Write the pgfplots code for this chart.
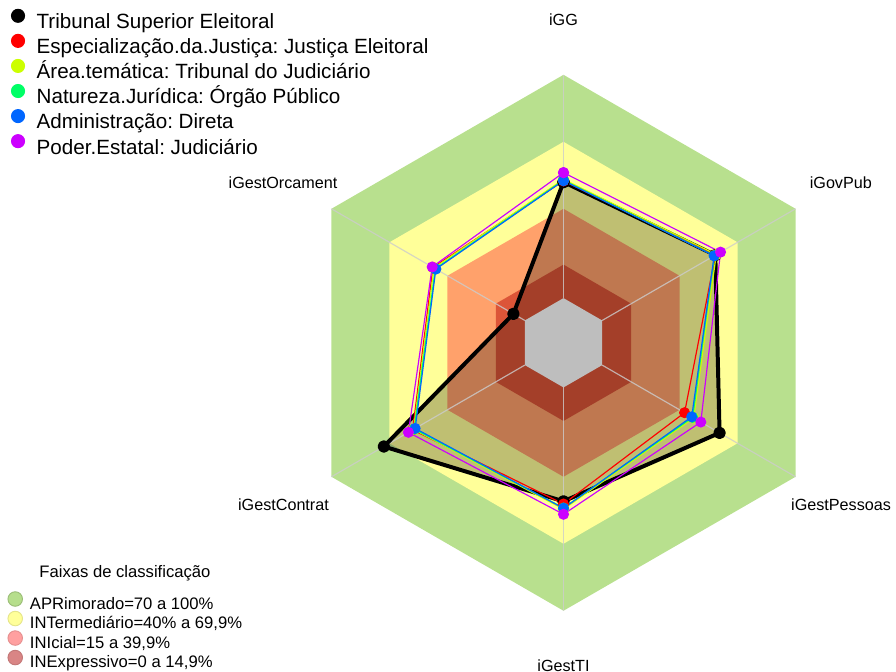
\documentclass[border=0pt]{standalone}
\usepackage{fontspec}
\setmainfont{Liberation Sans}
\usepackage{pgfplots}
\usepackage{pgfplotstable}
\pgfplotsset{compat=1.18}
\frenchspacing

\definecolor{cAP}{HTML}{B8E08E}
\definecolor{cINT}{HTML}{FFFF99}
\definecolor{cINI}{HTML}{FFA16B}
\definecolor{cINE}{HTML}{DC5538}
\definecolor{cCen}{HTML}{BEBEBE}
\definecolor{sRed}{HTML}{FF0000}
\definecolor{sYel}{HTML}{CCFF00}
\definecolor{sGrn}{HTML}{00FF66}
\definecolor{sBlu}{HTML}{0066FF}
\definecolor{sMag}{HTML}{CC00FF}
\definecolor{lAP}{HTML}{B6DE8C}
\definecolor{lINT}{HTML}{FFFF99}
\definecolor{lINI}{HTML}{FFA0A0}
\definecolor{lINE}{HTML}{D98585}

% scores (0-100); the radial axis starts at -20, so radius = value + 20
% angle: iGG 90, iGovPub 30, iGestPessoas -30, iGestTI -90, iGestContrat -150, iGestOrcament 150
\pgfplotstableread{
ang  tse   esp   area  nat   adm   pod
90   52.0  52.5  53.2  52.8  52.6  56.2
30   58.5  58.6  59.0  58.0  57.9  61.2
-30  60.7  42.6  47.3  46.8  46.3  51.0
-90  51.0  52.2  54.5  54.0  54.1  56.8
-150 72.9  58.0  57.5  57.2  56.7  60.2
150  5.9   47.5  47.0  46.3  46.0  47.9
90   52.0  52.5  53.2  52.8  52.6  56.2
}\scores

% classification bands (upper limits)
\pgfplotstableread{
ang  ap   int  ini  ine  base
90   100  70   40   15   0
30   100  70   40   15   0
-30  100  70   40   15   0
-90  100  70   40   15   0
-150 100  70   40   15   0
150  100  70   40   15   0
}\bands

\pgfplotsset{
  radar/.style={scale only axis, width=13.44cm, height=10.065cm,
    xmin=-252.35, xmax=148.9, ymin=-146.98, ymax=153.5,
    axis lines=none, clip=false},
  serie/.style={#1, line width=0.5pt, mark=*, mark size=2.1pt,
    mark options={solid, fill=#1, draw=#1}, data cs=polar},
}

\begin{document}
\begin{tikzpicture}
\begin{axis}[radar]
\addplot[fill=cAP, draw=none, data cs=polar] table[x=ang, y expr=\thisrow{ap}+20] {\bands};
\addplot[fill=cINT, draw=none, data cs=polar] table[x=ang, y expr=\thisrow{int}+20] {\bands};
\addplot[fill=cINI, draw=none, data cs=polar] table[x=ang, y expr=\thisrow{ini}+20] {\bands};
\addplot[fill=cINE, draw=none, data cs=polar] table[x=ang, y expr=\thisrow{ine}+20] {\bands};
% shaded area of the selected body
\addplot[fill=black, fill opacity=0.25, draw=none, data cs=polar] table[x=ang, y expr=\thisrow{tse}+20] {\scores};
\addplot[fill=cCen, draw=none, data cs=polar] table[x=ang, y expr=\thisrow{base}+20] {\bands};
\pgfplotsinvokeforeach{90,30,-30,-90,-150,150}{
  \addplot[draw=white!80!black, line width=0.5pt, opacity=0.8, data cs=polar] coordinates {(#1,20) (#1,120)};
}
\addplot[black, line width=1.7pt, line join=round, mark=*, mark size=1.8pt, data cs=polar]
  table[x=ang, y expr=\thisrow{tse}+20] {\scores};
\addplot[serie=sRed] table[x=ang, y expr=\thisrow{esp}+20] {\scores};
\addplot[serie=sYel] table[x=ang, y expr=\thisrow{area}+20] {\scores};
\addplot[serie=sGrn] table[x=ang, y expr=\thisrow{nat}+20] {\scores};
\addplot[serie=sBlu] table[x=ang, y expr=\thisrow{adm}+20] {\scores};
\addplot[serie=sMag] table[x=ang, y expr=\thisrow{pod}+20] {\scores};

\begin{scope}[font=\fontsize{6.9}{8}\selectfont]
\node at (axis cs:0,144.6) {iGG};
\node at (axis cs:124.2,71.6) {iGovPub};
\node at (axis cs:124.3,-72.7) {iGestPessoas};
\node at (axis cs:0,-144.4) {iGestTI};
\node at (axis cs:-125.4,-72.7) {iGestContrat};
\node at (axis cs:-125.6,71.6) {iGestOrcament};
\node[font=\fontsize{7.1}{8}\selectfont] at (axis cs:-196.4,-103.1) {Faixas de classificação};
\end{scope}
\coordinate (bl) at (rel axis cs:0,0);
\coordinate (tr) at (rel axis cs:1,1);
\end{axis}

\begin{axis}[radar,
  legend style={at={(0.0039,0.9946)}, anchor=north west, draw=none, fill=none,
    font=\fontsize{8.8}{10}\selectfont, row sep=0.2pt, column sep=4.95pt,
    nodes={inner sep=0pt, text height=7pt, text depth=2pt}},
  legend cell align=left,
  legend image code/.code={\fill[#1] (0pt,3pt) circle (2.8pt);},
]
\addlegendimage{black}\addlegendentry{Tribunal Superior Eleitoral}
\addlegendimage{sRed}\addlegendentry{Especialização.da.Justiça: Justiça Eleitoral}
\addlegendimage{sYel}\addlegendentry{Área.temática: Tribunal do Judiciário}
\addlegendimage{sGrn}\addlegendentry{Natureza.Jurídica: Órgão Público}
\addlegendimage{sBlu}\addlegendentry{Administração: Direta}
\addlegendimage{sMag}\addlegendentry{Poder.Estatal: Judiciário}
\end{axis}

\begin{axis}[radar,
  legend style={at={(0,0.1265)}, anchor=north west, draw=none, fill=none,
    font=\fontsize{7.1}{8}\selectfont, row sep=-0.92pt, column sep=3.0pt,
    nodes={inner sep=0pt, text height=5.5pt, text depth=1.6pt}},
  legend cell align=left,
  legend image code/.code={\filldraw[#1, line width=0.4pt] (0pt,2.4pt) circle (3.1pt);},
]
\addlegendimage{fill=lAP, draw=lAP!85!black}\addlegendentry{APRimorado=70 a 100\%}
\addlegendimage{fill=lINT, draw=lINT!90!black}\addlegendentry{INTermediário=40\% a 69,9\%}
\addlegendimage{fill=lINI, draw=lINI!90!black}\addlegendentry{INIcial=15 a 39,9\%}
\addlegendimage{fill=lINE, draw=lINE!90!black}\addlegendentry{INExpressivo=0 a 14,9\%}
\end{axis}
\pgfresetboundingbox
\path (bl) rectangle (tr);
\end{tikzpicture}
\end{document}
